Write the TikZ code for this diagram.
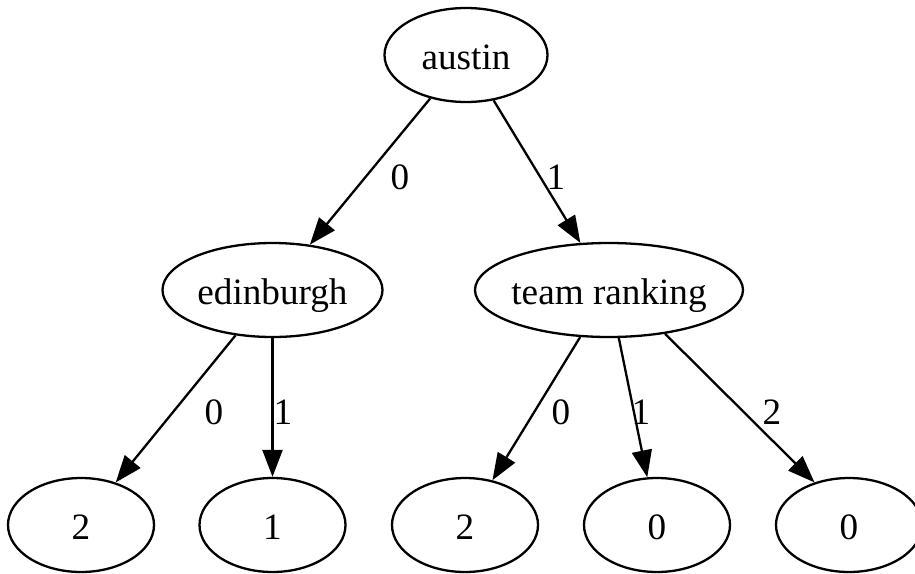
\documentclass[tikz,border=0pt]{standalone}
\usepackage{fontspec}
\setmainfont{Liberation Serif}
\usetikzlibrary{shapes.geometric,arrows.meta}

\tikzset{
  tree/.style={ellipse, draw, line width=2.3pt, inner sep=0pt,
    minimum height=94pt, text height=29pt, text depth=0pt,
    font=\fontsize{37.2}{40}\selectfont},
  leaf/.style={tree, minimum width=146pt},
  edgelabel/.style={inner sep=0pt, text height=29pt, text depth=0pt,
    font=\fontsize{37.2}{40}\selectfont},
  branch/.style={line width=2.3pt, -{Triangle[length=27pt 0 0,width=20pt 0 0]}}
}

\begin{document}
\begin{tikzpicture}[x=1pt,y=-1pt]
  \useasboundingbox (0,0) rectangle (915,573);

  % decision nodes
  \node[tree, minimum width=163pt] (austin) at (466,55) {austin};
  \node[tree, minimum width=220pt] (edin)   at (272.5,290) {edinburgh};
  \node[tree, minimum width=268pt, inner xsep=-3pt] (rank) at (609,290) {team ranking};

  % leaves
  \node[leaf] (l1) at (81,525)  {2};
  \node[leaf] (l2) at (272.5,525) {1};
  \node[leaf] (l3) at (465,525) {2};
  \node[leaf] (l4) at (657,525) {0};
  \node[leaf] (l5) at (849,525) {0};

  % branches
  \draw[branch] (austin) -- (edin);
  \draw[branch] (austin) -- (rank);
  \draw[branch] (edin) -- (l1);
  \draw[branch] (edin) -- (l2);
  \draw[branch] (rank) -- (l3);
  \draw[branch] (rank) -- (l4);
  \draw[branch] (rank.-38.5) -- (l5.129);

  % branch values
  \node[edgelabel] (e1) at (400,175) {0};
  \node[edgelabel] (e2) at (556,175) {1};
  \node[edgelabel] (e3) at (214,410) {0};
  \node[edgelabel] (e4) at (283,410) {1};
  \node[edgelabel] (e5) at (561,410) {0};
  \node[edgelabel] (e6) at (641,410) {1};
  \node[edgelabel] (e7) at (772,410) {2};
\end{tikzpicture}
\end{document}
